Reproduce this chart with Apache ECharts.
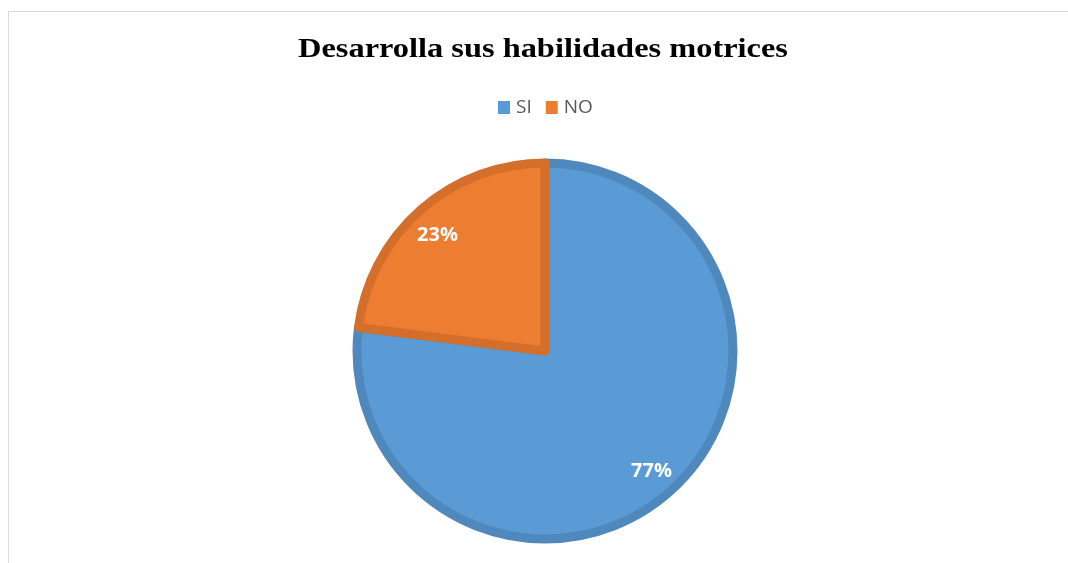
<!DOCTYPE html>
<html>
<head>
<meta charset="utf-8">
<script src="https://cdn.jsdelivr.net/npm/echarts@6/dist/echarts.min.js"></script>
<style>
  html, body { margin: 0; padding: 0; background: #fff; }
  #chart { width: 1068px; height: 563px; }
</style>
</head>
<body>
<div id="chart"></div>
<script>
// Datos del gráfico
var titulo = 'Desarrolla sus habilidades motrices';
var categorias = ['SI', 'NO'];
var valores = [77, 23];
var colores = ['#5B9BD5', '#ED7D31'];
var bordes = ['#4F88BD', '#D46F2B'];

var datos = categorias.map(function (nombre, i) {
    return {
        name: nombre,
        value: valores[i],
        itemStyle: { color: colores[i], borderColor: bordes[i] }
    };
});

var chart = echarts.init(document.getElementById('chart'));

var option = {
    animation: false,
    legend: {
        top: 93,
        left: 493,
        itemWidth: 12,
        itemHeight: 13,
        itemGap: 14,
        icon: 'rect',
        itemStyle: { borderWidth: 0 },
        textStyle: { fontFamily: 'Open Sans', fontSize: 19, color: '#595959', padding: [0, 0, 0, 1] },
        data: categorias
    },
    graphic: [
        {
            type: 'rect',
            shape: { x: 8.5, y: 11.5, width: 1200, height: 700 },
            style: { fill: 'none', stroke: '#d9d9d9', lineWidth: 1 },
            silent: true
        },
        {
            // título estirado a lo ancho como en el original
            type: 'text',
            x: 543,
            y: 50,
            scaleX: 1.2,
            silent: true,
            style: {
                text: titulo,
                textAlign: 'center',
                textVerticalAlign: 'middle',
                font: 'bold 27px "Liberation Serif"',
                fill: '#000'
            }
        }
    ],
    series: [
        {
            name: titulo,
            type: 'pie',
            center: [545, 351],
            radius: 188,
            startAngle: 90,
            clockwise: true,
            itemStyle: { borderWidth: 9 },
            label: { show: false },
            labelLine: { show: false },
            emphasis: { disabled: true },
            data: datos
        },
        {
            // serie invisible solo para colocar las etiquetas
            name: 'etiquetas',
            type: 'pie',
            center: [545, 351],
            radius: [124, 192],
            startAngle: 90,
            clockwise: true,
            silent: true,
            itemStyle: { color: 'rgba(0,0,0,0)', borderWidth: 0 },
            label: {
                show: true,
                position: 'inside',
                formatter: '{d}%',
                color: '#fff',
                fontFamily: 'Open Sans',
                fontWeight: 'bold',
                fontSize: 20
            },
            labelLine: { show: false },
            emphasis: { disabled: true },
            data: categorias.map(function (nombre, i) {
                var d = { name: nombre, value: valores[i] };
                if (i === 1) d.label = { offset: [-1, 5] };
                return d;
            })
        }
    ]
};

chart.setOption(option);
</script>
</body>
</html>
